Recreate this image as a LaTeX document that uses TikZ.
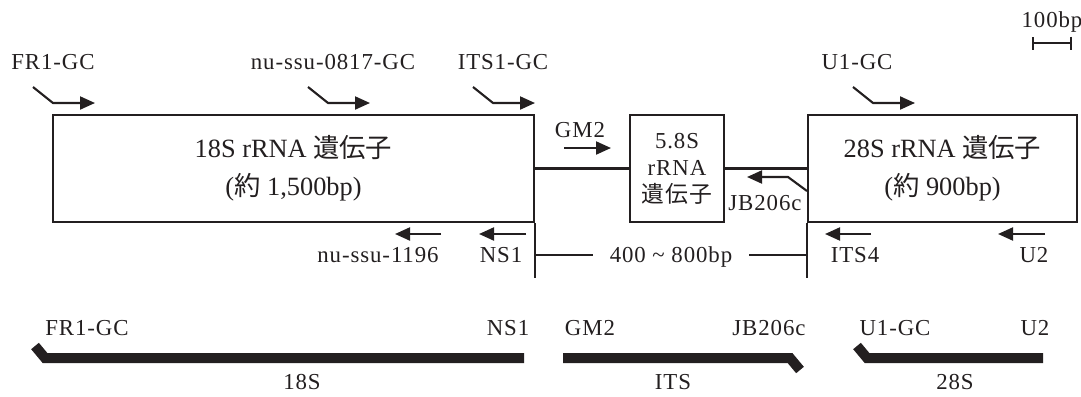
\documentclass[tikz,border=0pt]{standalone}
\usepackage{fontspec}
\setmainfont{Liberation Serif}
\newfontfamily\lblfont{Liberation Serif}[LetterSpace=4]
\newfontfamily\jp{Noto Sans CJK JP}
\newfontfamily\jplbl{Noto Sans CJK JP}[LetterSpace=4]
\usepackage{tikz}
\usetikzlibrary{arrows.meta,positioning,calc}
\definecolor{ink}{HTML}{231F20}
\newcommand\genefont{\fontsize{15}{21.6}\selectfont}
\newcommand\lblsize{\lblfont\fontsize{13}{15.3}\selectfont}
\tikzset{
  gene/.style={draw=ink,line width=1.2pt,inner sep=0pt,minimum height=2.14cm,
               align=center,text=ink},
  lbl/.style={font=\lblsize,text=ink,inner sep=0pt,
              text height=8.6pt,text depth=0pt},
  wire/.style={draw=ink,line width=1.2pt},
  primer/.style={-{Triangle[length=3mm,width=2.6mm]},line width=1.2pt,ink},
  segbar/.style={line width=0.2cm,ink,line cap=butt,line join=miter},
}

\begin{document}
\begin{tikzpicture}[x=0.02cm,y=-0.02cm]
  \useasboundingbox (0,0) rectangle (1081,396);

  % Gene boxes
  \node[gene,minimum width=9.62cm,font=\genefont] (g18) at (293.5,168.5)
    {18S rRNA {\jp 遺伝子}\\({\jp 約} 1,500bp)};
  \node[gene,minimum width=1.88cm,font=\lblsize] (g58) at (677,168.5)
    {5.8S\\rRNA\\{\jplbl 遺伝子}};
  \node[gene,minimum width=5.38cm,font=\genefont] (g28) at (942.5,168.5)
    {28S rRNA {\jp 遺伝子}\\({\jp 約} 900bp)};
  \draw[wire] (g18.east) -- (g58.west);
  \draw[wire] (g58.east) -- (g28.west);

  % ITS span
  \draw[wire] (g18.south east) -- ++(0,55);
  \draw[wire] (g28.south west) -- ++(0,55);
  \node[lbl,inner xsep=0.33cm] (span) at (671,255) {400 \textasciitilde{} 800bp};
  \draw[wire] (g18.east |- span) -- (span.west);
  \draw[wire] (span.east) -- (g28.west |- span);

  % Scale bar
  \node[lbl] (scale) at (1052,20) {100bp};
  \draw[ink,line width=1.2pt,{Bar[width=2.6mm]}-{Bar[width=2.6mm]}]
    (1032,43) -- (1072,43);

  % Forward primers
  \foreach \tip in {95,370,535,915}
    \draw[primer] (\tip-62,87) -- (\tip-42,103) -- (\tip,103);
  \draw[primer] (564,148) -- (611,148);
  \node[lbl] (fr1) at (53,62) {FR1-GC};
  \node[lbl] (nu817) at (333,62) {nu-ssu-0817-GC};
  \node[lbl] (its1) at (503,62) {ITS1-GC};
  \node[lbl] (u1) at (857,62) {U1-GC};
  \node[lbl] (gm2) at (580,130) {GM2};

  % Reverse primers
  \foreach \tail/\tip in {441/395,526/479,871/825,1045/998}
    \draw[primer] (\tail,234) -- (\tip,234);
  \draw[primer] (807,191) -- (788,177) -- (747,177);
  \node[lbl] (jb) at (765,203) {JB206c};
  \node[lbl] (nu1196) at (378,255) {nu-ssu-1196};
  \node[lbl] (ns1) at (501,255) {NS1};
  \node[lbl] (its4) at (855,255) {ITS4};
  \node[lbl] (u2) at (1034,255) {U2};

  % Amplified regions
  \draw[segbar] (35,346) -- (45,358) -- (524,358);
  \draw[segbar] (563,358) -- (790,358) -- (800,370);
  \draw[segbar] (857,346) -- (867,358) -- (1043,358);
  \foreach \x/\name in {87/FR1-GC,508/NS1,590/GM2,769/JB206c,895/U1-GC,1035/U2}
    \node[lbl] at (\x,328) {\name};
  \node[lbl] (r18) at (302,382) {18S};
  \node[lbl] (rits) at (673,382) {ITS};
  \node[lbl] (r28) at (955,382) {28S};
\end{tikzpicture}
\end{document}
